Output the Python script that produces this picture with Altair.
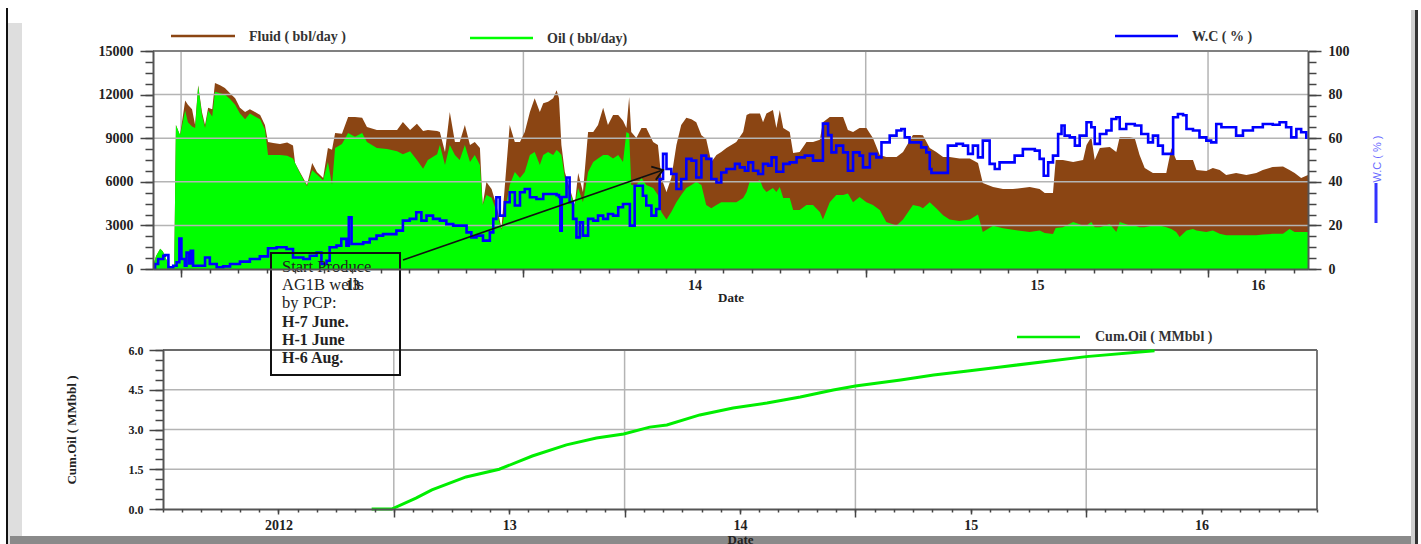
import altair as alt
import pandas as pd

# ---------------- daily rates, sampled (decimal years) ----------------
RATE_T = [
    2012.918, 2012.927, 2012.939, 2012.947, 2012.956, 2012.968, 2012.980, 2012.985, 2012.997,
    2013.012, 2013.020, 2013.032, 2013.041, 2013.050, 2013.061, 2013.070, 2013.079, 2013.091,
    2013.099, 2013.114, 2013.128, 2013.143, 2013.158, 2013.172, 2013.187, 2013.201, 2013.216,
    2013.231, 2013.245, 2013.254, 2013.269, 2013.289, 2013.310, 2013.327, 2013.333, 2013.347,
    2013.368, 2013.383, 2013.397, 2013.415, 2013.429, 2013.441, 2013.450, 2013.470, 2013.488,
    2013.508, 2013.529, 2013.543, 2013.572, 2013.602, 2013.631, 2013.648, 2013.669, 2013.689,
    2013.707, 2013.721, 2013.748,
    2013.756, 2013.771, 2013.785, 2013.800, 2013.814, 2013.829, 2013.844, 2013.858, 2013.873, 2013.881,
    2013.892, 2013.907, 2013.921, 2013.936, 2013.946, 2013.960, 2013.975, 2013.990, 2014.004, 2014.019,
    2014.033, 2014.048, 2014.058, 2014.072, 2014.087, 2014.097, 2014.104, 2014.111, 2014.121, 2014.135,
    2014.150, 2014.160, 2014.174, 2014.189, 2014.204, 2014.218, 2014.233, 2014.247, 2014.262, 2014.277,
    2014.291, 2014.301, 2014.309, 2014.315, 2014.330, 2014.345, 2014.359, 2014.379, 2014.393, 2014.403,
    2014.418, 2014.432, 2014.447, 2014.461, 2014.476, 2014.491, 2014.505, 2014.520, 2014.534, 2014.549,
    2014.564, 2014.578, 2014.593,
    2014.622, 2014.642, 2014.652, 2014.661, 2014.681, 2014.691, 2014.700, 2014.710, 2014.729, 2014.739,
    2014.749, 2014.759, 2014.778, 2014.788, 2014.807, 2014.827, 2014.846, 2014.866, 2014.875, 2014.895,
    2014.914, 2014.934, 2014.948, 2014.963, 2014.982, 2015.002, 2015.021, 2015.041, 2015.060, 2015.090,
    2015.109, 2015.138, 2015.158, 2015.167, 2015.187, 2015.206, 2015.226, 2015.245, 2015.274, 2015.304,
    2015.328, 2015.342, 2015.372, 2015.401, 2015.430,
    2015.479, 2015.508, 2015.523, 2015.547, 2015.555, 2015.576, 2015.606, 2015.635, 2015.645, 2015.659,
    2015.669, 2015.684, 2015.713, 2015.732, 2015.742, 2015.771, 2015.786, 2015.800, 2015.815, 2015.839,
    2015.859, 2015.878, 2015.893, 2015.907, 2015.917, 2015.937, 2015.956, 2015.966, 2015.995, 2016.014,
    2016.034, 2016.053, 2016.082, 2016.112, 2016.141, 2016.160, 2016.189, 2016.219, 2016.238, 2016.253,
    2016.272, 2016.292,
]
FLUID_BPD = [
    200, 900, 1400, 1200, 700, 100, 100, 9900, 9200,
    11600, 11300, 11000, 9900, 12650, 10800, 9900, 11100, 11000,
    12800, 12650, 12450, 12100, 11750, 11100, 10800, 11000, 10800,
    10600, 9900, 8740, 8670, 8600, 8700, 8500, 7290, 6670,
    5780, 7290, 6670, 6260, 8320, 8200, 9360, 9300, 10460,
    10460, 10400, 9770, 9560, 9560, 9560, 10110, 9560, 10000,
    9500, 9560, 9500,
    9430, 8050, 10800, 8740, 8740, 9900, 8530, 8740, 8320, 4400,
    5990, 5500, 4400, 2820, 5780, 9900, 8740, 8740, 9430, 10800,
    11750, 10800, 11400, 11500, 11750, 12300, 11750, 8530, 6670, 5570,
    4400, 6600, 5300, 9430, 9430, 9900, 11100, 9900, 10600, 10600,
    10200, 9700, 11830, 9430, 9010, 9700, 9700, 8740, 8530, 6260,
    5300, 6260, 8530, 9900, 10400, 10300, 10100, 9200, 8950, 7360,
    7840, 8050, 8320,
    8740, 9430, 10600, 10700, 10700, 10700, 10100, 10700, 10940, 9700,
    10940, 9700, 9430, 7980, 8050, 8740, 8740, 8900, 10100, 10460,
    10460, 10460, 9560, 9430, 9700, 9700, 9010, 7840, 7700, 7700,
    8050, 9220, 9220, 9200, 8320, 8050, 7700, 7700, 7600, 7600,
    7290, 5920, 5640, 5500, 5500,
    5640, 5500, 5230, 5230, 7500, 7500, 7360, 7500, 8530, 9080,
    7500, 8320, 8400, 8050, 9080, 9080, 9000, 7840, 6950, 6600,
    6600, 6600, 8320, 7500, 7500, 7500, 7500, 6810, 6750, 6950,
    6810, 6470, 6600, 6470, 6600, 6810, 7020, 7060, 6810, 6600,
    6260, 6470,
]
OIL_BPD = [
    200, 900, 1400, 1200, 700, 100, 100, 9900, 9200,
    10900, 10100, 9800, 9700, 12600, 10600, 9700, 10900, 10500,
    12200, 12100, 12000, 11700, 11300, 10700, 10300, 10700, 10500,
    10300, 9600, 7840, 7840, 7840, 7800, 7600, 7290, 6600,
    5700, 6800, 6500, 6100, 7360, 5800, 8320, 8600, 9360,
    9100, 9360, 8740, 8320, 8250, 8100, 7900, 8100, 7500,
    6900, 7500, 7900,
    8530, 7150, 8530, 7840, 7500, 8530, 7360, 7840, 7150, 4400,
    5090, 4900, 4000, 2700, 3920, 5780, 6670, 6260, 6670, 7840,
    8050, 7150, 7840, 8050, 7840, 8190, 8050, 7840, 6260, 5300,
    4400, 5570, 4600, 6670, 7360, 7600, 7840, 7840, 7600, 7840,
    7360, 9430, 9300, 5780, 5780, 6260, 5780, 5570, 5090, 3920,
    3400, 3920, 4600, 5090, 5570, 5780, 6000, 5780, 4400, 4180,
    4400, 4600, 4600,
    4600, 4880, 5300, 6000, 6000, 6120, 5570, 5300, 5570, 5300,
    5640, 4880, 4880, 4060, 4060, 4400, 4400, 3920, 3400, 4600,
    5090, 5090, 5200, 4600, 4950, 4600, 4400, 4060, 3230, 3000,
    3400, 4400, 4300, 4180, 4600, 4180, 3700, 3400, 3300, 3400,
    3750, 2550, 2980, 2800, 2700,
    2550, 2650, 2480, 2410, 2820, 2880, 3230, 3000, 3000, 3230,
    2880, 2880, 3100, 2550, 3230, 3000, 3000, 2880, 2880, 3000,
    3000, 2880, 2750, 2550, 2200, 2650, 2750, 2650, 2550, 2650,
    2420, 2320, 2320, 2320, 2320, 2370, 2420, 2420, 2750, 2550,
    2550, 2550,
]

# ---------------- water cut ----------------
WC_T = [
    2012.919, 2012.924, 2012.933, 2012.948, 2012.953, 2012.963, 2012.977, 2012.987, 2012.995, 2013.001,
    2013.011, 2013.016, 2013.024, 2013.028, 2013.035, 2013.055, 2013.070, 2013.084, 2013.104, 2013.123,
    2013.143, 2013.172, 2013.201, 2013.230, 2013.254, 2013.279, 2013.308, 2013.327, 2013.357, 2013.376,
    2013.396, 2013.410, 2013.425, 2013.434, 2013.454, 2013.468, 2013.483, 2013.490, 2013.498, 2013.512,
    2013.532, 2013.551, 2013.571, 2013.590, 2013.610, 2013.629, 2013.648, 2013.668, 2013.687, 2013.702,
    2013.717, 2013.736,
    2013.756, 2013.775, 2013.795, 2013.819, 2013.834, 2013.848, 2013.863, 2013.882, 2013.902, 2013.912,
    2013.921, 2013.931, 2013.946, 2013.960, 2013.975, 2013.990, 2014.004, 2014.019, 2014.038, 2014.058,
    2014.077, 2014.097, 2014.104, 2014.108, 2014.112, 2014.121, 2014.126, 2014.135, 2014.145, 2014.155,
    2014.165, 2014.174, 2014.189, 2014.204, 2014.218, 2014.233, 2014.247, 2014.262, 2014.277, 2014.291,
    2014.301, 2014.311, 2014.320, 2014.325, 2014.340, 2014.349, 2014.359, 2014.374, 2014.388, 2014.398,
    2014.408, 2014.418, 2014.432, 2014.447, 2014.461, 2014.476, 2014.491, 2014.505, 2014.520, 2014.534,
    2014.549, 2014.564, 2014.578, 2014.593,
    2014.618, 2014.632, 2014.647, 2014.657, 2014.671, 2014.686, 2014.700, 2014.715, 2014.725, 2014.739,
    2014.759, 2014.778, 2014.798, 2014.822, 2014.846, 2014.861, 2014.875, 2014.890, 2014.900, 2014.914,
    2014.934, 2014.948, 2014.963, 2014.982, 2014.992, 2015.012, 2015.031, 2015.046, 2015.070, 2015.090,
    2015.104, 2015.114, 2015.128, 2015.148, 2015.162, 2015.177, 2015.187, 2015.192, 2015.235, 2015.240,
    2015.265, 2015.284, 2015.299, 2015.313, 2015.328, 2015.342, 2015.352, 2015.362, 2015.377, 2015.391,
    2015.420, 2015.435, 2015.459,
    2015.469, 2015.494, 2015.508, 2015.520, 2015.533, 2015.547, 2015.562, 2015.572, 2015.581, 2015.596,
    2015.611, 2015.625, 2015.645, 2015.659, 2015.669, 2015.684, 2015.703, 2015.718, 2015.732, 2015.742,
    2015.761, 2015.786, 2015.805, 2015.825, 2015.839, 2015.854, 2015.868, 2015.888, 2015.898, 2015.912,
    2015.927, 2015.937, 2015.956, 2015.975, 2015.995, 2016.009, 2016.024, 2016.039, 2016.063, 2016.082,
    2016.102, 2016.131, 2016.160, 2016.189, 2016.209, 2016.228, 2016.243, 2016.258, 2016.272, 2016.287,
]
WC_PCT = [
    0.5, 2.3, 4.6, 6.1, 6.4, 0.8, 1.5, 3.1, 14, 4.6,
    1.5, 7.6, 2.5, 8.4, 1.5, 1.5, 5.3, 2.3, 0.8, 1.2,
    2.3, 3.4, 4.6, 5.8, 9.5, 10, 9.2, 5.3, 4.6, 6.1,
    7.6, 2.3, 3.8, 10, 10.7, 13.8, 10.7, 23.7, 11.5, 11.5,
    12.2, 13.8, 15.3, 16, 16, 17.6, 22.2, 23, 26, 22.2,
    24.5, 23,
    22.2, 20.6, 19.9, 19.9, 16.8, 14.5, 15.3, 13, 16.8, 23,
    32.9, 24.5, 30.6, 35.2, 29.1, 35.2, 36.7, 32.9, 32.1, 34.4,
    34.4, 33.9, 33, 17.6, 33, 33, 42, 30.6, 23, 14.5,
    21.4, 15.3, 23, 22.2, 24.5, 23, 25.2, 24.5, 28.3, 29.8,
    29.8, 19.9, 19.9, 38.2, 38.2, 33.6, 29.1, 24.5, 27.5, 41.3,
    52.8, 45.9, 43.6, 36.7, 41.3, 50.5, 49.7, 42, 52, 50.5,
    41.3, 39.7, 44.3, 45.9,
    48.2, 46.6, 45.1, 48.9, 45.1, 43.6, 48.2, 47.4, 51.2, 44.6,
    48.2, 48.9, 51.2, 52, 49.7, 49.7, 66.7, 61.4, 53.5, 56.6,
    53.5, 45.1, 53.5, 52, 46.6, 52.8, 51.2, 58.1, 61.2, 63.5,
    64.2, 60.4, 58.1, 58.1, 55.8, 53.5, 45.9, 44.1, 44.1, 56.6,
    57.4, 56.6, 52.8, 56.6, 51.2, 58.9, 58.9, 48.2, 45.9, 48.9,
    48.9, 52, 55,
    55, 54.3, 50.5, 42.8, 48.9, 52, 61.9, 65.8, 61.2, 60.4,
    56.6, 61.2, 67.3, 65, 57.4, 61.9, 63.5, 68.8, 69.6, 64.2,
    66.5, 65.8, 61.9, 58.1, 61.2, 56.6, 52.8, 52.8, 69.6, 71.1,
    70.5, 64.2, 63.5, 60.4, 58.9, 58.1, 66.5, 65, 65, 61.2,
    63.5, 65, 66.5, 66.2, 67.3, 65, 60.4, 64.2, 62.7, 59.6,
]

# ---------------- cumulative oil ----------------
CUM_T = [2012.904, 2012.991, 2013.096, 2013.165, 2013.313, 2013.457, 2013.600, 2013.748,
         2013.878, 2013.996, 2014.109, 2014.183, 2014.326, 2014.470, 2014.617, 2014.761,
         2014.904, 2015.000, 2015.196, 2015.339, 2015.487, 2015.630, 2016.000, 2016.296]
CUM_MMBBL = [0, 0, 0.41, 0.72, 1.21, 1.50, 2.00, 2.42,
             2.68, 2.83, 3.09, 3.17, 3.55, 3.81, 4.00, 4.23,
             4.49, 4.64, 4.87, 5.06, 5.21, 5.36, 5.75, 5.97]

assert len(RATE_T) == len(FLUID_BPD) == len(OIL_BPD)
assert len(WC_T) == len(WC_PCT)
assert len(CUM_T) == len(CUM_MMBBL)

# ---------------- axes: spans, ticks, labels ----------------
TOP_SPAN = [2012.918, 2016.292]
BOT_SPAN = [2012.0, 2017.0]
YEAR_LINES = [2013, 2014, 2015, 2016]
TOP_LABEL_POS = [2013.5, 2014.5, 2015.5, 2016.145]
TOP_LABEL_TXT = ["13", "14", "15", "16"]
BOT_LABEL_POS = [2012.5, 2013.5, 2014.5, 2015.5, 2016.5]
BOT_LABEL_TXT = ["2012", "13", "14", "15", "16"]
RATE_TICKS = [0, 3000, 6000, 9000, 12000, 15000]
WC_TICKS = [0, 20, 40, 60, 80, 100]
WC_GRID = [20, 40, 60, 80]
CUM_TICKS = [0.0, 1.5, 3.0, 4.5, 6.0]
CUM_GRID = [1.5, 3.0, 4.5]

TOP_MONTHS = [2012 + 11 / 12] + [y + m / 12 for y in range(2013, 2017) for m in range(12)
                                 if y + m / 12 <= TOP_SPAN[1]]
BOT_MONTHS = [y + m / 12 for y in range(2012, 2017) for m in range(12)] + [2017.0]
RATE_MINOR = list(range(0, 15001, 750))
WC_MINOR = list(range(0, 101, 5))
CUM_MINOR = [i * 0.375 for i in range(17)]

LEGEND_TXT = ["Fluid ( bbl/day )", "Oil ( bbl/day)", "W.C ( % )", "Cum.Oil ( MMbbl )"]
NOTE_PLAIN = "Start Produce\nAG1B wells\nby PCP:"
NOTE_BOLD = "H-7 June.\nH-1 June\nH-6 Aug."

SERIF = "Liberation Serif"
BROWN, LIME, BLUE, CUMGREEN = "#8b4513", "#00ff00", "#0000ff", "#00ee00"
GRID = "#b4b4b4"

W, H = 1164, 458


def lab_expr(pos, txt):
    arr_p = "[" + ",".join(repr(p) for p in pos) + "]"
    arr_t = "[" + ",".join("'" + t + "'" for t in txt) + "]"
    return f"{arr_t}[indexof({arr_p}, datum.value)]"


def sc(domain, rng):
    return alt.Scale(domain=domain, range=rng, nice=False, zero=False)


def XT(): return sc(TOP_SPAN, [0, 1155])
def YF(): return sc([0, 15000], [218, 0])
def YW(): return sc([0, 100], [218, 0])
def XB(): return sc(BOT_SPAN, [10, 1164])
def YC(): return sc([0, 6], [458, 299])


def ax(**kw):
    # every axis sits above the marks
    return alt.Axis(zindex=1, **kw)


rates = pd.DataFrame({"t": RATE_T, "fluid": FLUID_BPD, "oil": OIL_BPD})
wc = pd.DataFrame({"t": WC_T, "wc": WC_PCT})
cum = pd.DataFrame({"t": CUM_T, "cum": CUM_MMBBL})
one = pd.DataFrame({"k": [0]})


def box(x, x2, y, y2, color):
    return alt.Chart(one).mark_rect(color=color).encode(
        x=alt.value(x), x2=alt.value(x2), y=alt.value(y), y2=alt.value(y2))


# page frame
frame = [
    box(-145, -131, -28, 493, "#dedede"),
    box(-147, -145, -43, 493, "#111111"),
    box(-143, 1265, 485, 493, "#8a8a8a"),
    box(1258, 1262, -41, 493, "#cfcfcf"),
    box(1262, 1265, -41, 493, "#333333"),
]

# ---------- upper panel ----------
top_vgrid = alt.Chart(pd.DataFrame({"t": YEAR_LINES})).mark_rule(color=GRID, strokeWidth=1.5).encode(
    x=alt.X("t:Q", scale=XT(), axis=None),
    y=alt.Y(datum=0, scale=YF(),
            axis=ax(orient="left", values=RATE_MINOR, tickSize=8, labels=False,
                    domain=False, title=None)),
    y2=alt.Y2(datum=15000),
)

fluid_area = alt.Chart(rates).mark_area(color=BROWN, interpolate="linear").encode(
    x=alt.X("t:Q", scale=XT(),
            axis=ax(orient="bottom", offset=-240, values=YEAR_LINES, tickSize=8,
                    labels=False, domain=True, title=None)),
    y=alt.Y("fluid:Q", scale=YF(),
            axis=ax(orient="left", values=RATE_TICKS, tickSize=13, labelPadding=7,
                    format="d", domain=True, title=None)),
    y2=alt.Y2(datum=0),
)

oil_area = alt.Chart(rates).mark_area(color=LIME, interpolate="linear").encode(
    x=alt.X("t:Q", scale=XT(),
            axis=ax(orient="bottom", offset=-240, values=TOP_MONTHS, tickSize=4,
                    labels=False, domain=False, title=None)),
    y=alt.Y("oil:Q", scale=YF(), axis=None),
    y2=alt.Y2(datum=0),
)

top_hgrid = alt.Chart(pd.DataFrame({"v": WC_GRID})).mark_rule(color=GRID, strokeWidth=1.5).encode(
    y=alt.Y("v:Q", scale=YW(),
            axis=ax(orient="right", offset=-9, values=WC_MINOR, tickSize=8,
                    labels=False, domain=False, title=None)),
    x=alt.X(datum=TOP_SPAN[0], scale=XT(), axis=None),
    x2=alt.X2(datum=TOP_SPAN[1]),
)

top_border = alt.Chart(one).mark_rule(color="#808080", strokeWidth=2).encode(
    y=alt.Y(datum=100, scale=YW(), axis=None),
    x=alt.X(datum=TOP_SPAN[0], scale=XT(), axis=None),
    x2=alt.X2(datum=TOP_SPAN[1]),
)

wc_line = alt.Chart(wc).mark_line(color=BLUE, strokeWidth=2.6, interpolate="step-after").encode(
    x=alt.X("t:Q", scale=XT(),
            axis=ax(orient="bottom", offset=-240, values=TOP_LABEL_POS, tickSize=4,
                    tickOpacity=0, labelPadding=5, domain=False,
                    labelExpr=lab_expr(TOP_LABEL_POS, TOP_LABEL_TXT),
                    title="Date", titlePadding=-1)),
    y=alt.Y("wc:Q", scale=YW(),
            axis=ax(orient="right", offset=-9, values=WC_TICKS, tickSize=13,
                    labelPadding=7, domain=True, title=None)),
)

# ---------- lower panel ----------
bot_vgrid = alt.Chart(pd.DataFrame({"t": YEAR_LINES})).mark_rule(color=GRID, strokeWidth=1.5).encode(
    x=alt.X("t:Q", scale=XB(),
            axis=ax(orient="bottom", values=YEAR_LINES, tickSize=8, labels=False,
                    domain=True, title=None)),
    y=alt.Y(datum=0, scale=YC(), axis=None),
    y2=alt.Y2(datum=6),
)

bot_hgrid = alt.Chart(pd.DataFrame({"v": CUM_GRID})).mark_rule(color=GRID, strokeWidth=1.5).encode(
    y=alt.Y("v:Q", scale=YC(),
            axis=ax(orient="left", offset=-10, values=CUM_MINOR, tickSize=8,
                    labels=False, domain=False, title=None)),
    x=alt.X(datum=BOT_SPAN[0], scale=XB(),
            axis=ax(orient="bottom", values=BOT_MONTHS, tickSize=3, labels=False,
                    domain=False, title=None)),
    x2=alt.X2(datum=BOT_SPAN[1]),
)

bot_top_edge = alt.Chart(one).mark_rule(color="#6a6a6a", strokeWidth=1.8).encode(
    y=alt.Y(datum=6, scale=YC(), axis=None),
    x=alt.X(datum=BOT_SPAN[0], scale=XB(), axis=None),
    x2=alt.X2(datum=BOT_SPAN[1]),
)
bot_right_edge = alt.Chart(one).mark_rule(color="#6a6a6a", strokeWidth=1.8).encode(
    x=alt.X(datum=BOT_SPAN[1], scale=XB(), axis=None),
    y=alt.Y(datum=0, scale=YC(), axis=None),
    y2=alt.Y2(datum=6),
)

cum_line = alt.Chart(cum).mark_line(color=CUMGREEN, strokeWidth=3).encode(
    x=alt.X("t:Q", scale=XB(),
            axis=ax(orient="bottom", values=BOT_LABEL_POS, tickSize=5, labelPadding=4,
                    domain=False, labelExpr=lab_expr(BOT_LABEL_POS, BOT_LABEL_TXT),
                    title="Date", titlePadding=1)),
    y=alt.Y("cum:Q", scale=YC(),
            axis=ax(orient="left", offset=-10, values=CUM_TICKS, tickSize=14,
                    labelPadding=6, format=".1f", labelFontSize=12, domain=True,
                    title="Cum.Oil ( MMbbl )", titlePadding=50)),
)

# ---------- annotation ----------
note_box = alt.Chart(one).mark_rect(fill=None, stroke="#111", strokeWidth=2).encode(
    x=alt.value(118), x2=alt.value(247), y=alt.value(202), y2=alt.value(324))
note_plain = alt.Chart(one).mark_text(
    text=NOTE_PLAIN, lineBreak="\n", lineHeight=18, align="left", baseline="top",
    font=SERIF, fontSize=16.5, color="#222").encode(x=alt.value(129), y=alt.value(208))
note_bold = alt.Chart(one).mark_text(
    text=NOTE_BOLD, lineBreak="\n", lineHeight=18, align="left", baseline="top",
    font=SERIF, fontSize=16, fontWeight="bold", color="#222").encode(x=alt.value(129), y=alt.value(263))
arrow_shaft = alt.Chart(one).mark_rule(color="#111", strokeWidth=1.6).encode(
    x=alt.value(250), y=alt.value(209), x2=alt.value(510), y2=alt.value(119))
arrow_head = alt.Chart(one).mark_point(
    shape="M-1,-0.7L0,0L-1,0.7", filled=False, stroke="#111", strokeWidth=1.8,
    size=400, angle=341, opacity=1).encode(x=alt.value(510), y=alt.value(119))


# ---------- legend keys ----------
def key(x1, x2, y, color, text, tx, ty):
    line = alt.Chart(one).mark_rule(color=color, strokeWidth=2.5).encode(
        x=alt.value(x1), x2=alt.value(x2), y=alt.value(y), y2=alt.value(y))
    label = alt.Chart(one).mark_text(
        text=text, align="left", baseline="middle", font=SERIF, fontSize=14,
        fontWeight="bold", color="#333").encode(x=alt.value(tx), y=alt.value(ty))
    return [line, label]


legend = (key(18, 82, -15, BROWN, LEGEND_TXT[0], 96, -14)
          + key(317, 380, -13, LIME, LEGEND_TXT[1], 394, -12)
          + key(962, 1025, -15, BLUE, LEGEND_TXT[2], 1039, -14)
          + key(864, 927, 286, CUMGREEN, LEGEND_TXT[3], 942, 286))

wc_title = alt.Chart(one).mark_text(
    text=LEGEND_TXT[2], angle=270, align="center", baseline="middle",
    font="Liberation Sans", fontSize=11, color="#6a6aff").encode(x=alt.value(1225), y=alt.value(108))
wc_title_key = alt.Chart(one).mark_rule(color="#3333ff", strokeWidth=3).encode(
    x=alt.value(1223), x2=alt.value(1223), y=alt.value(132), y2=alt.value(172))

layers = (frame
          + [top_vgrid, fluid_area, oil_area, top_hgrid, top_border, wc_line,
             bot_vgrid, bot_hgrid, bot_top_edge, bot_right_edge, cum_line,
             note_box, note_plain, note_bold, arrow_shaft, arrow_head]
          + legend + [wc_title, wc_title_key])

chart = alt.layer(*layers).resolve_scale(
    x="independent", y="independent"
).properties(
    width=W, height=H,
    autosize=alt.AutoSizeParams(type="none"),
    padding={"left": 153, "top": 51, "right": 104, "bottom": 35},
    background="white",
).configure_axis(
    labelFont=SERIF, labelFontWeight="bold", labelFontSize=14, labelColor="#222",
    titleFont=SERIF, titleFontWeight="bold", titleFontSize=13, titleColor="#222",
    tickColor="#444", tickWidth=1.5, domainColor="#555", domainWidth=2,
    grid=False, labelFlush=False, labelOverlap=False, labelBound=False,
).configure_view(stroke=None)

chart.save("out.html", embed_options={"renderer": "svg", "actions": False})
